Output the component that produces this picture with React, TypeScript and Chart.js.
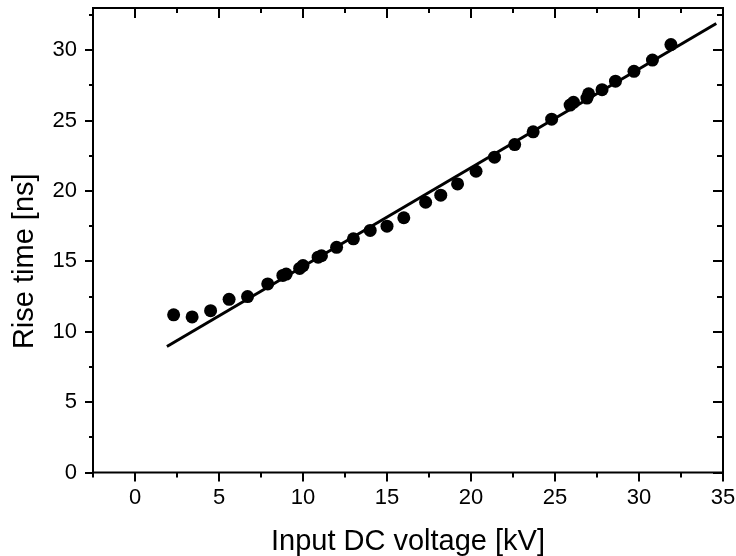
import { useEffect, useRef } from 'react';
import { Chart, registerables } from 'chart.js';

Chart.register(...registerables);

const voltage = [2.3, 3.4, 4.5, 5.6, 6.7, 7.9, 8.8, 9.0, 9.8, 10.0, 10.9, 11.1, 12.0, 13.0, 14.0, 15.0, 16.0, 17.3, 18.2, 19.2, 20.3, 21.4, 22.6, 23.7, 24.8, 25.9, 26.1, 26.9, 27.0, 27.8, 28.6, 29.7, 30.8, 31.9];
const riseTime = [11.2, 11.05, 11.5, 12.3, 12.5, 13.4, 14.0, 14.1, 14.5, 14.7, 15.3, 15.4, 16.0, 16.6, 17.2, 17.5, 18.1, 19.2, 19.7, 20.5, 21.4, 22.4, 23.3, 24.2, 25.1, 26.1, 26.3, 26.6, 26.9, 27.2, 27.8, 28.5, 29.3, 30.4];

const fitVoltage = [1.9, 34.6];
const fitRiseTime = [8.95, 31.9];

const xMajorTicks = [0, 5, 10, 15, 20, 25, 30, 35];
const xMinorTicks = [-2.5, 2.5, 7.5, 12.5, 17.5, 22.5, 27.5, 32.5];
const yMajorTicks = [0, 5, 10, 15, 20, 25, 30];
const yMinorTicks = [2.5, 7.5, 12.5, 17.5, 22.5, 27.5, 32.5];

const xTitle = 'Input DC voltage [kV]';
const yTitle = 'Rise time [ns]';

const FONT = "'Liberation Sans', Arial, sans-serif";

const framePlugin = {
  id: 'frame',
  afterDraw(chart: any) {
    const { ctx, chartArea, scales } = chart;
    const { left, right, top, bottom } = chartArea;
    const x = scales.x;
    const y = scales.y;
    ctx.save();
    ctx.strokeStyle = '#000';
    ctx.lineWidth = 2;
    ctx.strokeRect(left, top, right - left, bottom - top);
    ctx.beginPath();
    const xt = (v: number, major: boolean) => {
      const p = Math.round(x.getPixelForValue(v));
      ctx.moveTo(p, bottom);
      ctx.lineTo(p, bottom + (major ? 9 : 5));
      ctx.moveTo(p, top);
      ctx.lineTo(p, top + (major ? 10 : 5));
    };
    const yt = (v: number, major: boolean) => {
      const p = Math.round(y.getPixelForValue(v));
      ctx.moveTo(left, p);
      ctx.lineTo(left - (major ? 8 : 4), p);
      ctx.moveTo(right, p);
      ctx.lineTo(right - (major ? 10 : 6), p);
    };
    xMajorTicks.forEach((v) => xt(v, true));
    xMinorTicks.forEach((v) => xt(v, false));
    yMajorTicks.forEach((v) => yt(v, true));
    yMinorTicks.forEach((v) => yt(v, false));
    ctx.stroke();

    // y-axis title (rotated), offset slightly below the axis centre as in the reference
    ctx.fillStyle = '#000';
    ctx.font = `29px ${FONT}`;
    ctx.textAlign = 'center';
    ctx.textBaseline = 'middle';
    ctx.translate(y.left + 14.5, (top + bottom) / 2 + 21);
    ctx.rotate(-Math.PI / 2);
    ctx.fillText(yTitle, 0, 0);
    ctx.restore();
  },
};

export default function App() {
  const ref = useRef<HTMLCanvasElement | null>(null);

  useEffect(() => {
    document.body.style.margin = '0';
    const canvas = ref.current;
    if (!canvas) return;
    const chart = new Chart(canvas, {
      type: 'scatter',
      data: {
        datasets: [
          {
            type: 'line',
            data: fitVoltage.map((v, i) => ({ x: v, y: fitRiseTime[i] })),
            borderColor: '#000',
            borderWidth: 3,
            pointRadius: 0,
            fill: false,
          } as any,
          {
            type: 'scatter',
            data: voltage.map((v, i) => ({ x: v, y: riseTime[i] })),
            backgroundColor: '#000',
            borderWidth: 0,
            pointRadius: 6.5,
          },
        ],
      },
      options: {
        animation: false,
        responsive: false,
        events: [],
        layout: { padding: { top: 8, right: 13, bottom: 0, left: 10.5 } },
        plugins: { legend: { display: false }, tooltip: { enabled: false } },
        scales: {
          x: {
            type: 'linear',
            min: -2.5,
            max: 35,
            afterBuildTicks: (s: any) => {
              s.ticks = xMajorTicks.map((v) => ({ value: v }));
            },
            afterFit: (s: any) => {
              s.paddingLeft = 0;
              s.paddingRight = 0;
              s.height = 83.5;
            },
            grid: { display: false, drawTicks: false },
            border: { display: false },
            ticks: {
              color: '#000',
              padding: 12,
              maxRotation: 0,
              font: { family: FONT, size: 22 },
            },
            title: {
              display: true,
              text: xTitle,
              color: '#000',
              font: { family: FONT, size: 29, lineHeight: 1 },
              padding: { top: 0, bottom: 0 },
            },
          },
          y: {
            type: 'linear',
            min: 0,
            max: 33,
            afterBuildTicks: (s: any) => {
              s.ticks = yMajorTicks.map((v) => ({ value: v }));
            },
            afterFit: (s: any) => {
              s.paddingTop = 0;
              s.paddingBottom = 0;
              s.width = 82.5;
            },
            grid: { display: false, drawTicks: false },
            border: { display: false },
            ticks: {
              color: '#000',
              padding: 16,
              font: { family: FONT, size: 22 },
            },
            title: { display: false },
          },
        },
      },
      plugins: [framePlugin],
    });
    return () => chart.destroy();
  }, []);

  return (
    <div style={{ width: 736, height: 556 }}>
      <canvas ref={ref} width={736} height={556} style={{ display: 'block' }} />
    </div>
  );
}
